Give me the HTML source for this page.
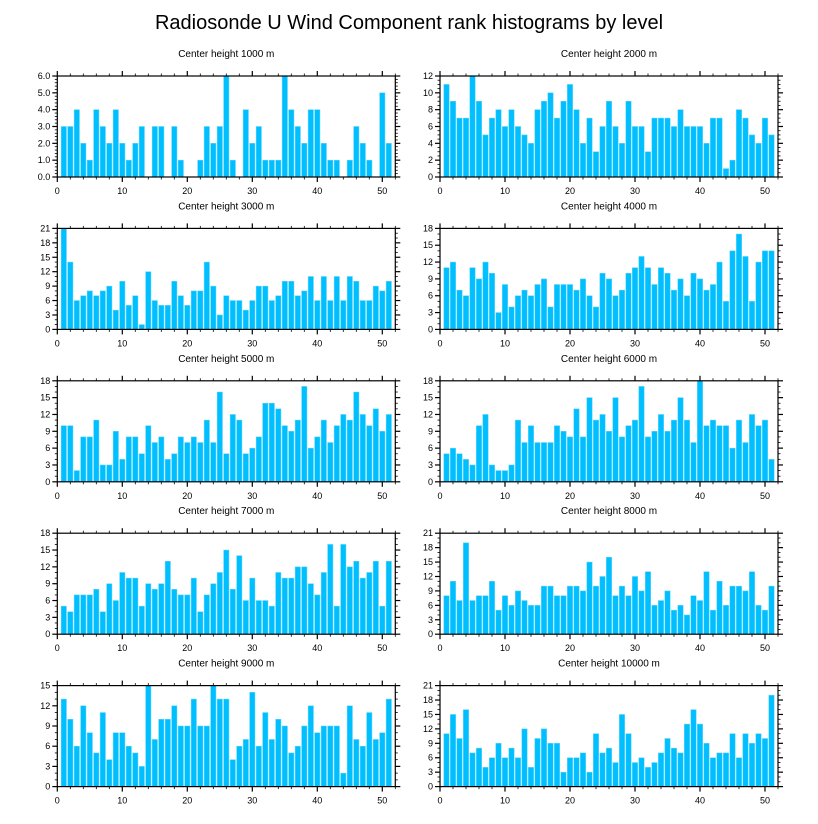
<!DOCTYPE html>
<html><head><meta charset="utf-8"><style>
body{margin:0;background:#fff;}
svg{display:block;font-family:"Liberation Sans",sans-serif;}
</style></head><body>
<svg id="chart" width="818" height="824" viewBox="0 0 818 824">
<text x="409" y="29" font-size="20" text-anchor="middle" fill="#000">Radiosonde U Wind Component rank histograms by level</text>
</svg>
<script>
const levels = [1000,2000,3000,4000,5000,6000,7000,8000,9000,10000];
const yMaxes = [6,12,21,18,18,18,18,21,15,21];
const yMajorSteps = [1,2,3,3,3,3,3,3,3,3];
const xTicks = [0,10,20,30,40,50];
const h1000 = [3,3,4,2,1,4,3,2,4,2,1,2,3,0,3,3,0,3,1,0,0,1,3,2,3,6,1,0,4,2,3,1,1,1,6,4,3,2,4,4,2,1,1,0,1,3,2,1,0,5,2];
const h2000 = [11,9,7,7,12,9,5,7,8,6,8,6,5,4,8,9,10,7,9,11,8,4,7,3,6,9,6,4,9,6,6,3,7,7,7,6,8,6,6,6,4,7,7,1,2,8,7,5,4,7,5];
const h3000 = [21,14,6,7,8,7,8,9,4,10,5,7,1,12,6,5,5,10,7,5,8,8,14,9,3,7,6,6,4,6,9,9,6,7,10,10,7,8,11,6,11,6,11,6,11,10,6,6,9,8,10];
const h4000 = [11,12,7,6,11,9,12,10,3,8,4,6,7,6,8,9,4,8,8,8,7,9,6,4,10,9,6,7,10,11,13,11,8,11,10,7,9,6,10,9,7,8,12,5,14,17,13,5,12,14,14];
const h5000 = [10,10,2,8,8,11,3,3,9,4,8,8,5,10,7,8,4,5,8,7,8,7,11,7,16,5,12,11,5,6,8,14,14,13,10,9,11,17,6,8,11,7,10,12,11,16,12,10,13,9,12];
const h6000 = [5,6,5,4,3,10,12,3,2,2,3,11,7,10,7,7,7,10,9,8,13,8,15,11,12,9,15,8,10,11,17,8,9,12,9,11,15,11,7,18,10,11,10,10,6,11,7,12,10,11,4];
const h7000 = [5,4,7,7,7,8,4,9,6,11,10,10,5,9,8,9,13,8,7,7,10,4,7,9,11,15,8,14,6,10,6,6,5,11,10,10,12,12,9,7,11,16,5,16,12,13,10,11,13,5,13];
const h8000 = [8,11,7,19,7,8,8,11,5,8,6,9,7,6,6,10,10,8,8,10,10,9,15,10,12,16,8,10,8,12,9,13,6,7,9,5,6,4,8,7,13,5,11,6,10,10,9,13,6,5,10];
const h9000 = [13,10,6,12,8,5,11,4,8,8,6,5,3,15,7,10,10,12,9,9,13,9,9,15,13,13,4,6,7,14,6,11,7,10,9,5,6,9,12,8,9,9,9,2,12,7,6,11,7,8,13];
const h10000 = [11,15,10,16,7,8,4,6,9,6,8,6,12,4,10,12,9,9,3,6,6,7,3,11,7,8,5,15,11,5,6,4,5,7,10,8,7,13,16,13,9,6,7,7,11,6,11,9,11,10,19];
const series = [h1000,h2000,h3000,h4000,h5000,h6000,h7000,h8000,h9000,h10000];

const svg = document.getElementById('chart');
const NS = 'http://www.w3.org/2000/svg';
function mk(tag, attrs, parent){
  const e = document.createElementNS(NS, tag);
  for (const k in attrs) e.setAttribute(k, attrs[k]);
  parent.appendChild(e);
  return e;
}
const XMAX = 52, PW = 338, PH = 101;
for (let p = 0; p < 10; p++) {
  const col = p % 2, row = Math.floor(p / 2);
  const x0 = col === 0 ? 57.3 : 440;
  const y0 = 76 + row * 152.4;
  const ymax = yMaxes[p], step = yMajorSteps[p];
  const sx = v => x0 + v / XMAX * PW;
  const sy = v => y0 + PH - v / ymax * PH;
  const g = mk('g', {}, svg);
  
  
  const t = mk('text', {x: x0 + PW/2, y: y0 - 19, 'font-size': 10, 'text-anchor': 'middle'}, g);
  t.textContent = 'Center height ' + levels[p] + ' m';
  
  
  const data = series[p];
  for (let i = 0; i < data.length; i++) {
    const xi = i + 1, v = data[i];
    if (v <= 0) continue;
    const r = mk('rect', {x: sx(xi - 0.41), y: sy(v), width: sx(0.82) - sx(0), height: sy(0) - sy(v), fill: '#00bfff', stroke: '#5fd3ff', 'stroke-width': 0.5}, g);
    
    
  }
  const frame = mk('rect', {x: x0, y: y0, width: PW, height: PH, fill: 'none', stroke: '#000', 'stroke-width': 1.2}, g);
  
  
  // x ticks
  for (let v = 0; v <= XMAX; v += 2) {
    const major = v % 10 === 0, L = major ? 5 : 2.5, X = sx(v);
    mk('line', {x1: X, x2: X, y1: y0 + PH, y2: y0 + PH + L, stroke: '#000', 'stroke-width': major ? 1.2 : 0.8}, g);
    mk('line', {x1: X, x2: X, y1: y0, y2: y0 - L, stroke: '#000', 'stroke-width': major ? 1.2 : 0.8}, g);
  }
  for (const v of xTicks) {
    const tl = mk('text', {x: sx(v), y: y0 + PH + 17, 'font-size': 9, 'text-anchor': 'middle'}, g);
    tl.textContent = v;
    
    
  }
  // y ticks
  const nMin = step === 1 ? 5 : (step === 2 ? 4 : 3);
  const minor = step / nMin;
  for (let k = 0; k <= Math.round(ymax / minor); k++) {
    const v = k * minor, major = k % nMin === 0, L = major ? 5 : 2.5, Y = sy(v);
    mk('line', {x1: x0, x2: x0 - L, y1: Y, y2: Y, stroke: '#000', 'stroke-width': major ? 1.2 : 0.8}, g);
    mk('line', {x1: x0 + PW, x2: x0 + PW + L, y1: Y, y2: Y, stroke: '#000', 'stroke-width': major ? 1.2 : 0.8}, g);
    if (major) {
      const yl = mk('text', {x: x0 - 7, y: Y + 3, 'font-size': 9, 'text-anchor': 'end'}, g);
      yl.textContent = step === 1 ? v.toFixed(1) : Math.round(v);
      
      
    }
  }
}
</script>
</body></html>
